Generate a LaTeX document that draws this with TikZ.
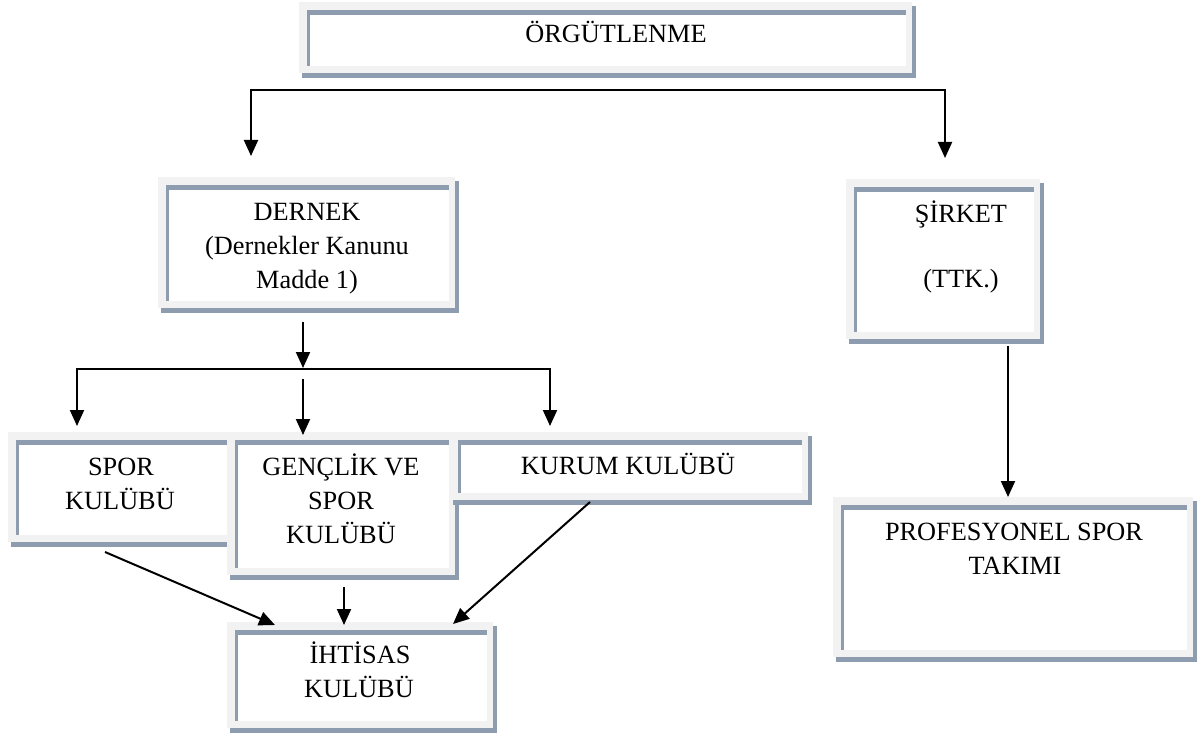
\documentclass[tikz,border=0pt]{standalone}
\usepackage{fontspec}
\setmainfont{Liberation Serif}
\usetikzlibrary{arrows.meta}
\definecolor{boxgray}{HTML}{F2F2F2}
\definecolor{edgec}{HTML}{8E9CAF}
\definecolor{shadowc}{HTML}{8E9CAF}
\newcommand\wordbox[5]{%
  \fill[shadowc] ({#2+3},{#3+4}) rectangle ({#4+4},{#5+5});
  \node[boxnode, minimum width={(#4-#2)*1pt}, minimum height={(#5-#3)*1pt}] (#1) at (#2,#3) {};
  \fill[white] ({#2+8},{#3+8}) rectangle ({#4-6},{#5-7});
  \fill[edgec] ({#2+8},{#3+8}) rectangle ({#4-6},{#3+13});
  \fill[edgec] ({#2+8},{#3+8}) rectangle ({#2+11},{#5-7});
}
\begin{document}
\begin{tikzpicture}[x=1pt,y=-1pt,
  boxnode/.style={fill=boxgray,draw=none,inner sep=0pt,outer sep=0pt,anchor=north west},
  lbl/.style={font=\fontsize{26.3}{34}\selectfont,anchor=base,inner sep=0pt},
  tip/.style={Triangle[width=14pt,length=16pt]},
  arr/.style={line width=2pt,-{Triangle[width=14pt,length=16pt]}},
  bus/.style={line width=2pt,line join=miter,{Triangle[width=14pt,length=16pt]}-{Triangle[width=14pt,length=16pt]}}]
\useasboundingbox[fill=white] (0,0) rectangle (1199,733);

% boxes
\wordbox{org}{299}{2}{912}{73}
\wordbox{dernek}{158}{177}{455}{308}
\wordbox{sirket}{846}{179}{1040}{339}
\wordbox{spor}{8}{432}{250}{542}
\wordbox{genclik}{227}{432}{455}{575}
\wordbox{kurum}{450}{432}{808}{500}
\wordbox{ihtisas}{227}{622}{493}{728}
\wordbox{prof}{833}{497}{1193}{657}

% labels
\node[lbl] (t-org) at (616,43) {ÖRGÜTLENME};
\node[lbl] (t-der1) at (307,220) {DERNEK};
\node[lbl] (t-der2) at (307,254) {(Dernekler Kanunu};
\node[lbl] (t-der3) at (307,288) {Madde 1)};
\node[lbl] (t-sir1) at (961,222) {ŞİRKET};
\node[lbl] (t-sir2) at (961,287) {(TTK.)};
\node[lbl] (t-spo1) at (121,475) {SPOR};
\node[lbl] (t-spo2) at (120,509) {KULÜBÜ};
\node[lbl] (t-gen1) at (341,475) {GENÇLİK VE};
\node[lbl] (t-gen2) at (341,509) {SPOR};
\node[lbl] (t-gen3) at (341,543) {KULÜBÜ};
\node[lbl] (t-kur) at (628,474) {KURUM KULÜBÜ};
\node[lbl] (t-iht1) at (360,663) {İHTİSAS};
\node[lbl] (t-iht2) at (359,697) {KULÜBÜ};
\node[lbl] (t-pro1) at (1014,540) {PROFESYONEL SPOR};
\node[lbl] (t-pro2) at (1015,574) {TAKIMI};

% connector points
\coordinate (busL) at (251,90);
\coordinate (busR) at (945,90);
\coordinate (tipDer) at (251,156);
\coordinate (tipSir) at (945,158);
\coordinate (derOut) at (303,322);
\coordinate (tipBus) at (303,368);
\coordinate (b2L) at (77,369);
\coordinate (b2R) at (550,369);
\coordinate (tipSpor) at (77,426);
\coordinate (tipKur) at (550,426);
\coordinate (genIn) at (303,379);
\coordinate (tipGen) at (303,435);
\coordinate (sirOut) at (1008,346);
\coordinate (tipProf) at (1008,497);
\coordinate (sporOut) at (105,552);
\coordinate (tipI1) at (275,625);
\coordinate (genOut) at (344,587);
\coordinate (tipI2) at (344,625);
\coordinate (kurOut) at (590,502);
\coordinate (tipI3) at (453,624);

\draw[bus] (tipDer) -- (busL) -- (busR) -- (tipSir);
\draw[arr] (derOut) -- (tipBus);
\draw[bus] (tipSpor) -- (b2L) -- (b2R) -- (tipKur);
\draw[arr] (genIn) -- (tipGen);
\draw[arr] (sirOut) -- (tipProf);
\draw[arr] (sporOut) -- (tipI1);
\draw[arr] (genOut) -- (tipI2);
\draw[arr] (kurOut) -- (tipI3);
\end{tikzpicture}
\end{document}
